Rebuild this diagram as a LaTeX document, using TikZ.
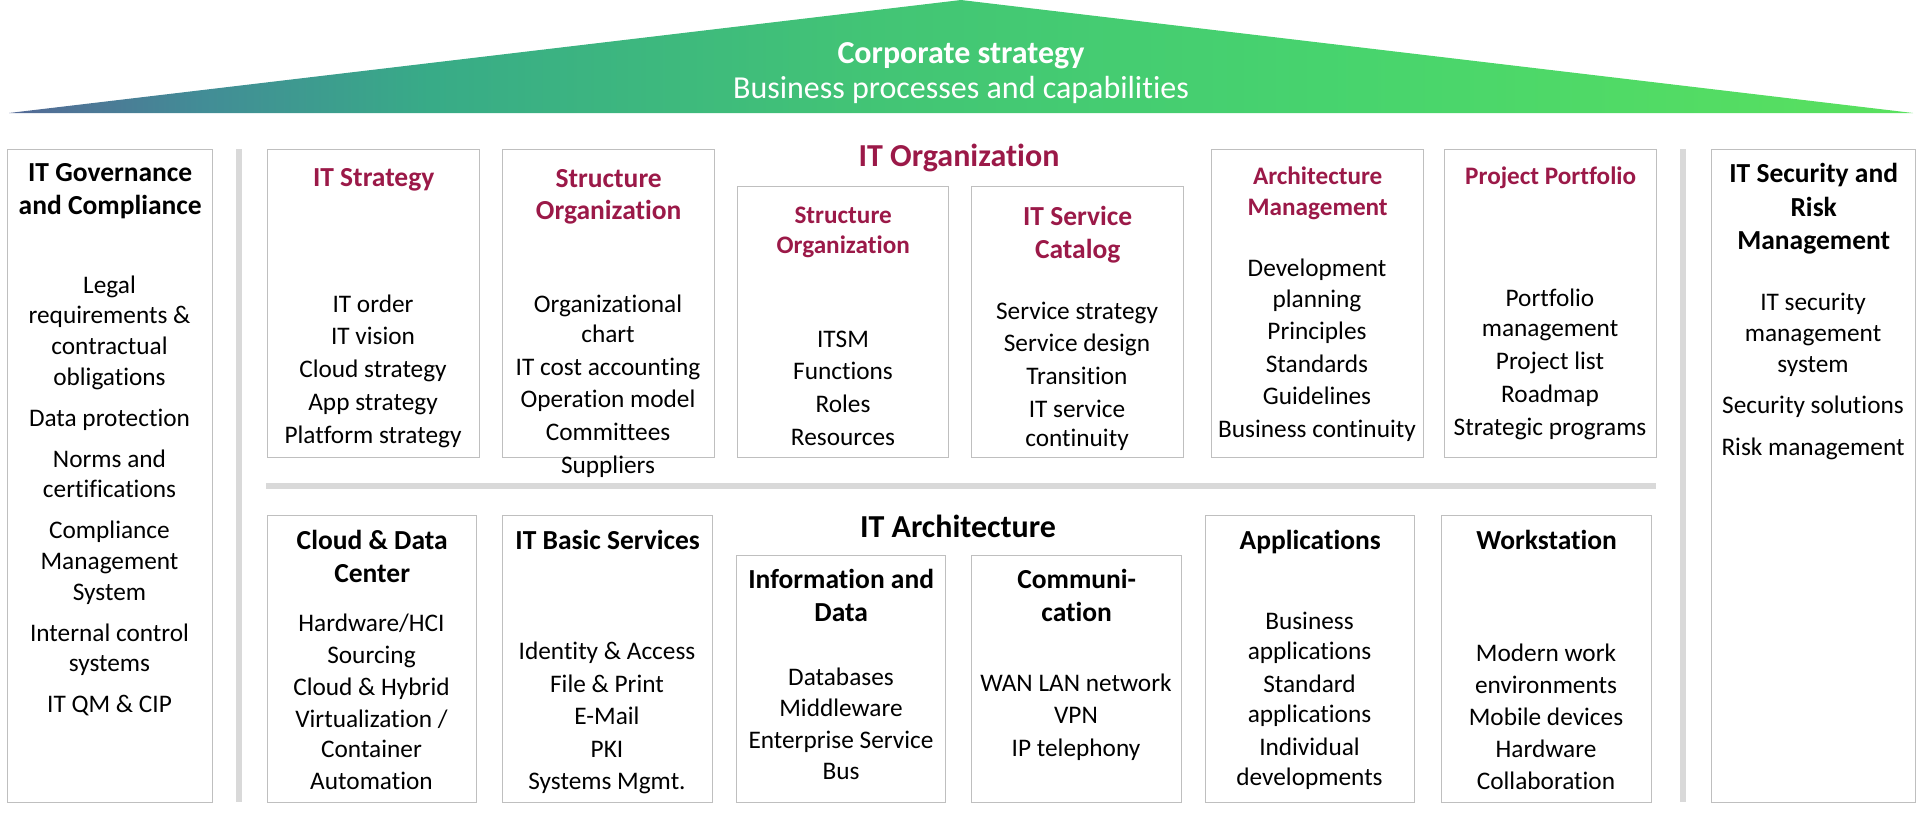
\documentclass[tikz,border=0pt]{standalone}
\usepackage{fontspec}
\setmainfont[Ligatures=NoCommon]{Carlito}
\usetikzlibrary{positioning}
\definecolor{crimson}{RGB}{155,25,72}
\definecolor{boxgrey}{RGB}{191,191,191}
\definecolor{bargrey}{RGB}{217,217,217}
\pgfdeclarehorizontalshading{roof}{100bp}{rgb(0bp)=(0.33,0.41,0.59); rgb(25bp)=(0.33,0.41,0.59); rgb(30bp)=(0.26,0.55,0.59); rgb(36bp)=(0.22,0.67,0.53); rgb(47.5bp)=(0.26,0.77,0.46); rgb(60bp)=(0.28,0.83,0.43); rgb(75bp)=(0.35,0.88,0.37); rgb(100bp)=(0.35,0.88,0.37)}
\tikzstyle{r} = [rectangle, draw=boxgrey, line width=1.4pt, anchor=north west, inner sep=0pt]
\tikzstyle{hd} = [font=\bfseries\fontsize{27.5}{33}\selectfont, align=center, inner sep=0pt, anchor=north]
\tikzstyle{hr} = [hd, text=crimson]
\tikzstyle{hs} = [hr, font=\bfseries\fontsize{25.2}{31}\selectfont]
\tikzstyle{it} = [font=\fontsize{25.3}{32.5}\selectfont, align=center, inner sep=0pt]
\tikzstyle{sec} = [font=\bfseries\fontsize{32}{35}\selectfont, inner sep=0pt]

\begin{document}
\begin{tikzpicture}[x=1pt,y=-1pt,node distance=15pt]
			\useasboundingbox (0,0) rectangle (1920,812);
			% roof
			\shade[shading=roof] (9,113) -- (961,0) -- (1913,113) -- cycle;
			\node[sec, text=white] (c1) at (961,56) {Corporate strategy};
			\node[sec, text=white, font=\fontsize{32}{35}\selectfont] (c2) at (961,90) {Business processes and capabilities};
			
			% pillars
			\fill[bargrey] (236,149) rectangle (242,802);
			\fill[bargrey] (1680,149) rectangle (1686,802);
			\fill[bargrey] (266,483) rectangle (1656,489);
			
			\node[sec, text=crimson] (io) at (959,158) {IT Organization};
			\node[sec] (ia) at (958,526) {IT Architecture};
			
			% boxes
			\node[r, minimum width=205pt, minimum height=653pt] (1) at (7,149) {};
			\node[r, minimum width=212pt, minimum height=308pt] (2) at (267,149) {};
			\node[r, minimum width=212pt, minimum height=308pt] (3) at (502,149) {};
			\node[r, minimum width=211pt, minimum height=271pt] (4) at (737,186) {};
			\node[r, minimum width=212pt, minimum height=271pt] (5) at (971,186) {};
			\node[r, minimum width=212pt, minimum height=308pt] (6) at (1211,149) {};
			\node[r, minimum width=212pt, minimum height=308pt] (7) at (1444,149) {};
			\node[r, minimum width=204pt, minimum height=653pt] (8) at (1711,149) {};
			\node[r, minimum width=209pt, minimum height=287pt] (9) at (267,515) {};
			\node[r, minimum width=210pt, minimum height=287pt] (10) at (502,515) {};
			\node[r, minimum width=209pt, minimum height=247pt] (11) at (736,555) {};
			\node[r, minimum width=210pt, minimum height=247pt] (12) at (971,555) {};
			\node[r, minimum width=209pt, minimum height=287pt] (13) at (1205,515) {};
			\node[r, minimum width=210pt, minimum height=287pt] (14) at (1441,515) {};
			
			% titles
			\node[hd, below=14pt of 1.north] (t1) {IT Governance\\and Compliance};
			\node[hr, below=19pt of 2.north] (t2) {IT Strategy};
			\node[hr, below=20pt of 3.north, font=\bfseries\fontsize{27.5}{32}\selectfont] (t3) {Structure\\Organization};
			\node[hs, below=21pt of 4.north, font=\bfseries\fontsize{25.2}{30}\selectfont] (t4) {Structure\\Organization};
			\node[hr, below=20pt of 5.north] (t5) {IT Service\\Catalog};
			\node[hs, below=18pt of 6.north] (t6) {Architecture\\Management};
			\node[hs, below=18pt of 7.north] (t7) {Project Portfolio};
			\node[hd, below=14pt of 8.north, font=\bfseries\fontsize{27.5}{33.5}\selectfont] (t8) {IT Security and\\Risk\\Management};
			\node[hd, below=of 9.north] (t9) {Cloud \& Data\\Center};
			\node[hd, below=of 10.north] (t10) {IT Basic Services};
			\node[hd, below=14pt of 11.north] (t11) {Information and\\Data};
			\node[hd, below=14pt of 12.north] (t12) {Communi-\\cation};
			\node[hd, below=of 13.north] (t13) {Applications};
			\node[hd, below=of 14.north] (t14) {Workstation};
			
			% contents
			\node[it, font=\fontsize{25.3}{30.6}\selectfont] (b1) at (109.5,496) {Legal\\requirements \&\\contractual\\obligations\\[10.5pt]Data protection\\[10.5pt]Norms and\\certifications\\[10.5pt]Compliance\\Management\\System\\[10.5pt]Internal control\\systems\\[10.5pt]IT QM \& CIP};
			\node[it, font=\fontsize{25.3}{32.8}\selectfont] (b2) at (373,371) {IT order\\IT vision\\Cloud strategy\\App strategy\\Platform strategy};
			\node[it, font=\fontsize{25.3}{32.8}\selectfont] (b3) at (608,386) {Organizational\\[-2.5pt]chart\\IT cost accounting\\Operation model\\Committees\\Suppliers};
			\node[it, font=\fontsize{25.3}{32.7}\selectfont] (b4) at (843,388) {ITSM\\Functions\\Roles\\Resources};
			\node[it, font=\fontsize{25.3}{32.7}\selectfont] (b5) at (1077,376) {Service strategy\\Service design\\Transition\\IT service\\[-3.5pt]continuity};
			\node[it] (b6) at (1317,350) {Development\\[-1.5pt]planning\\Principles\\Standards\\Guidelines\\Business continuity};
			\node[it, font=\fontsize{25.3}{33}\selectfont] (b7) at (1550,364) {Portfolio\\[-3pt]management\\Project list\\Roadmap\\Strategic programs};
			\node[it, font=\fontsize{25.3}{31}\selectfont] (b8) at (1813,376) {IT security\\management\\system\\[10.5pt]Security solutions\\[10.5pt]Risk management};
			\node[it, font=\fontsize{25.3}{32}\selectfont] (b9) at (371.5,702) {Hardware/HCI\\Sourcing\\Cloud \& Hybrid\\Virtualization /\\[-2pt]Container\\Automation};
			\node[it] (b10) at (607,718) {Identity \& Access\\File \& Print\\E-Mail\\PKI\\Systems Mgmt.};
			\node[it, font=\fontsize{25.3}{31.5}\selectfont] (b11) at (841,724) {Databases\\Middleware\\Enterprise Service\\Bus};
			\node[it] (b12) at (1076,717) {WAN LAN network\\VPN\\IP telephony};
			\node[it] (b13) at (1309.5,701) {Business\\[-2pt]applications\\Standard\\[-2pt]applications\\Individual\\[-2pt]developments};
			\node[it, font=\fontsize{25.3}{32}\selectfont] (b14) at (1546,717) {Modern work\\environments\\Mobile devices\\Hardware\\Collaboration};
			\end{tikzpicture}
\end{document}
